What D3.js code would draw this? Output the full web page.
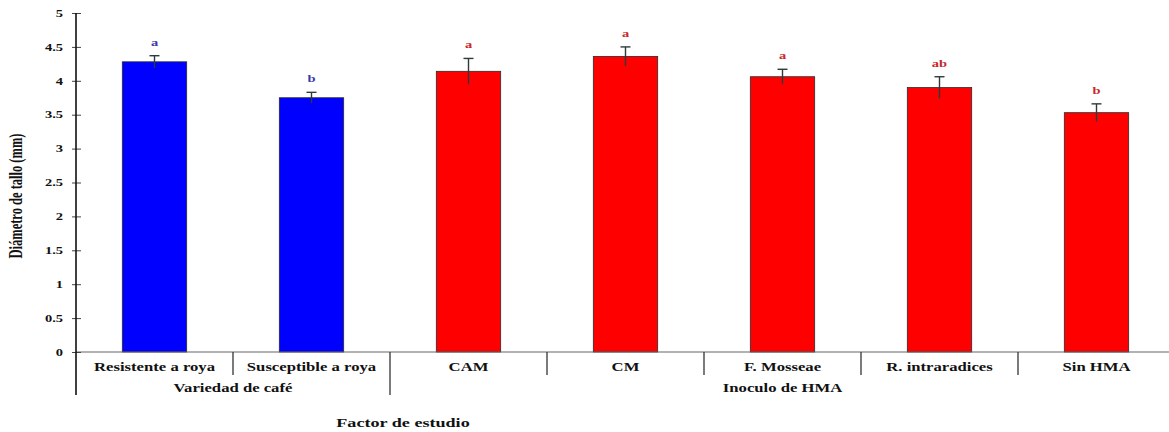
<!DOCTYPE html>
<html>
<head>
<meta charset="utf-8">
<script src="https://cdn.jsdelivr.net/npm/d3@7"></script>
<style>
  html, body { margin: 0; padding: 0; background: #fff; }
  svg { display: block; }
  text { font-family: "Liberation Serif", "Times New Roman", serif; font-weight: bold; }
</style>
</head>
<body>
<svg id="chart" width="1169" height="432"></svg>
<script>
// Stem diameter by study factor (mean ± SE, Tukey letters)
const categories = ["Resistente a roya", "Susceptible a roya", "CAM", "CM", "F. Mosseae", "R. intraradices", "Sin HMA"];
const groups = ["Variedad de café", "Variedad de café", "Inoculo de HMA", "Inoculo de HMA", "Inoculo de HMA", "Inoculo de HMA", "Inoculo de HMA"];
const groupNames = ["Variedad de café", "Inoculo de HMA"];
const means = [4.28, 3.75, 4.14, 4.36, 4.06, 3.90, 3.53];
const errors = [0.09, 0.08, 0.19, 0.14, 0.11, 0.16, 0.13];
const letters = ["a", "b", "a", "a", "a", "ab", "b"];
const yTicks = [0, 0.5, 1, 1.5, 2, 2.5, 3, 3.5, 4, 4.5, 5];
const yTickLabels = ["0", "0.5", "1", "1.5", "2", "2.5", "3", "3.5", "4", "4.5", "5"];

const groupFill = { "Variedad de café": "#0000ff", "Inoculo de HMA": "#ff0000" };
const letterFill = { "Variedad de café": "#3a3aa8", "Inoculo de HMA": "#c8282c" };

const svg = d3.select("#chart");
const STRETCH = 1.45;   // wide serif lettering

const x = d3.scaleBand().domain(categories).range([76, 1175]).padding(0);
const y = d3.scaleLinear().domain([0, 5]).range([352, 13]);
const barW = x.bandwidth() * 0.41;

// horizontally widened text, anchored at (px, py)
function wideText(g, px, py, str, size, anchor, fill) {
  return g.append("text")
    .attr("transform", `translate(${px},${py}) scale(${STRETCH},1)`)
    .attr("text-anchor", anchor)
    .attr("font-size", size)
    .attr("fill", fill || "#111")
    .text(str);
}

// bars
const data = categories.map((c, i) => ({ c, g: groups[i], m: means[i], e: errors[i], l: letters[i] }));
svg.append("g").selectAll("rect").data(data).join("rect")
  .attr("x", d => x(d.c) + (x.bandwidth() - barW) / 2)
  .attr("y", d => y(d.m))
  .attr("width", barW)
  .attr("height", d => y(0) - y(d.m))
  .attr("fill", d => groupFill[d.g])
  .attr("stroke", "#2a2a2a")
  .attr("stroke-width", 0.8);

// error bars
const eg = svg.append("g").attr("stroke", "#2f3b3b").attr("stroke-width", 1.4);
data.forEach(d => {
  const cx = x(d.c) + x.bandwidth() / 2;
  eg.append("line").attr("x1", cx).attr("x2", cx).attr("y1", y(d.m + d.e)).attr("y2", y(d.m - d.e));
  eg.append("line").attr("x1", cx - 5).attr("x2", cx + 5).attr("y1", y(d.m + d.e)).attr("y2", y(d.m + d.e));
});

// significance letters
const lg = svg.append("g");
data.forEach(d => {
  const cx = x(d.c) + x.bandwidth() / 2;
  wideText(lg, cx, y(d.m + d.e) - 10, d.l, 10, "middle", letterFill[d.g]);
});

// baseline
svg.append("line").attr("x1", 76).attr("x2", 1175).attr("y1", y(0)).attr("y2", y(0))
  .attr("stroke", "#666").attr("stroke-width", 1.2);

// y axis
const yAxis = d3.axisLeft(y).tickValues(yTicks).tickFormat((d, i) => yTickLabels[i]).tickSize(0).tickPadding(13);
const ya = svg.append("g").attr("transform", "translate(76,0)").call(yAxis);
ya.select(".domain").remove();
ya.selectAll(".tick text").attr("font-size", 10).attr("fill", "#111")
  .attr("font-family", "Liberation Serif").attr("font-weight", "bold")
  .each(function () {
    const t = d3.select(this);
    t.attr("transform", `scale(${STRETCH},1)`).attr("x", -13 / STRETCH);
  });
ya.selectAll(".tick").append("line").attr("x1", -4).attr("x2", 5).attr("stroke", "#444").attr("stroke-width", 1);
svg.append("line").attr("x1", 76).attr("x2", 76).attr("y1", 13).attr("y2", 395)
  .attr("stroke", "#111").attr("stroke-width", 1.6);

// category separators: short within a group, long between groups
const sep = svg.append("g").attr("stroke", "#333").attr("stroke-width", 1.3);
categories.forEach((c, i) => {
  if (i === 0) return;
  const bx = x(c);
  const long = groups[i] !== groups[i - 1];
  sep.append("line").attr("x1", bx).attr("x2", bx).attr("y1", y(0)).attr("y2", long ? 395 : 375);
});

// category labels
const cl = svg.append("g");
categories.forEach(c => {
  wideText(cl, x(c) + x.bandwidth() / 2, 371, c, 11.5, "middle");
});

// group labels
groupNames.forEach(gname => {
  const members = categories.filter((c, i) => groups[i] === gname);
  const x0 = x(members[0]);
  const x1 = x(members[members.length - 1]) + x.bandwidth();
  wideText(cl, (x0 + x1) / 2, 392, gname, 11.5, "middle");
});

// axis titles
wideText(svg, 403, 427, "Factor de estudio", 12.5, "middle");
svg.append("text")
  .attr("transform", "translate(22,196) rotate(-90) scale(1,1.45)")
  .attr("text-anchor", "middle")
  .attr("font-size", 12.5)
  .attr("fill", "#111")
  .text("Diámetro de tallo (mm)");
</script>
</body>
</html>
